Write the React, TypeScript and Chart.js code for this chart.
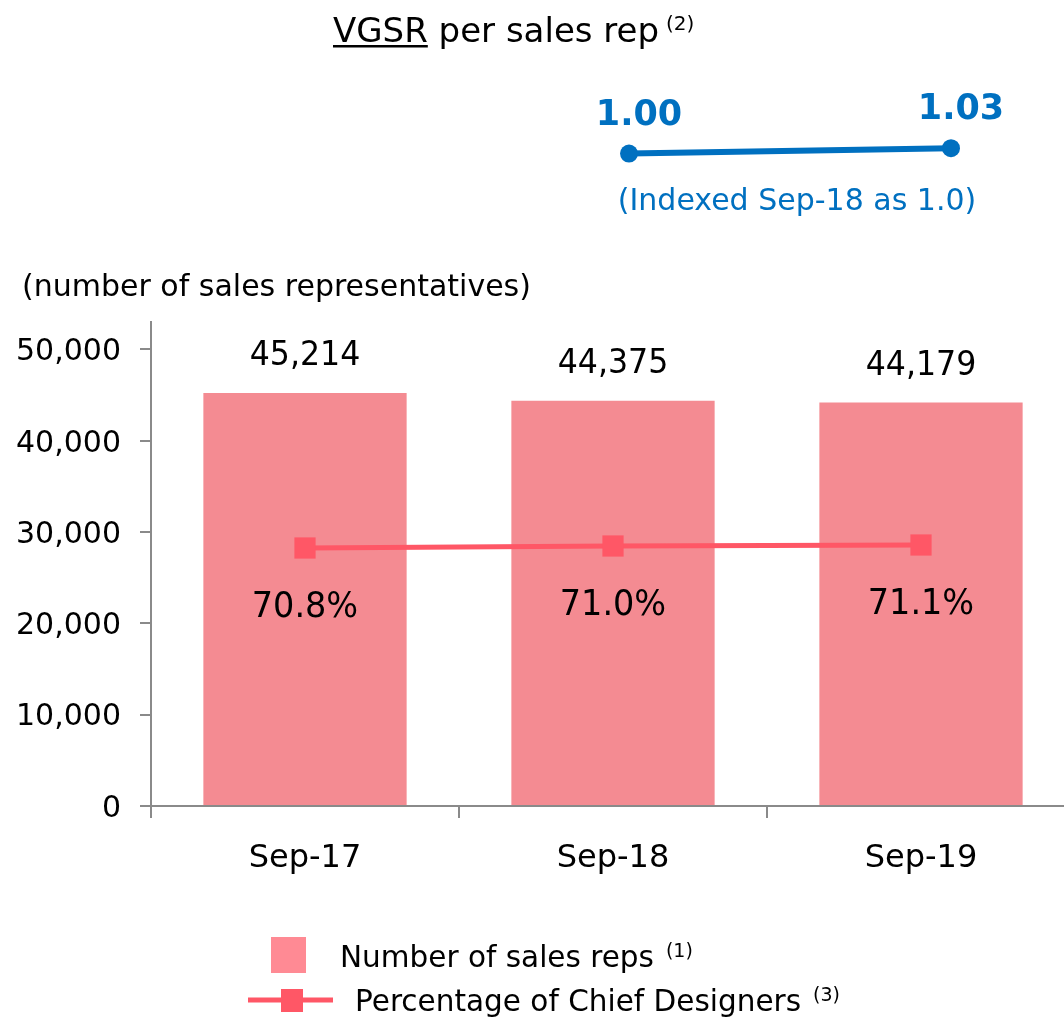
import React, { useEffect, useRef } from "react";
import { Chart, registerables } from "chart.js";

Chart.register(...registerables);

const CATEGORIES = ["Sep-17", "Sep-18", "Sep-19"];
const SALES_REPS = [45214, 44375, 44179];
const CHIEF_PCT = [70.8, 71.0, 71.1];
const PCT_LABELS = ["70.8%", "71.0%", "71.1%"];
const Y_TICKS = [0, 10000, 20000, 30000, 40000, 50000];
const VGSR_LABELS = ["Sep-18", "Sep-19"];
const VGSR_INDEX = [1.0, 1.03];
const VGSR_TEXT = ["1.00", "1.03"];

const FONT = "'DejaVu Sans', Verdana, sans-serif";
const BAR_COLOR = "#F48B92";
const LINE_COLOR = "#FF5766";
const BLUE = "#0070C0";
const AXIS = "#8A8A8A";

function drawScaled(ctx: CanvasRenderingContext2D, text: string, x: number, y: number, sx: number) {
  ctx.save();
  ctx.translate(x, y);
  ctx.scale(sx, 1);
  ctx.fillText(text, 0, 0);
  ctx.restore();
}

export default function App() {
  const mainRef = useRef<HTMLCanvasElement>(null);
  const miniRef = useRef<HTMLCanvasElement>(null);

  useEffect(() => {
    const overlay = {
      id: "overlay",
      afterDraw(chart: any) {
        const ctx = chart.ctx;
        ctx.save();
        // title
        ctx.fillStyle = "#000";
        ctx.textAlign = "left";
        ctx.textBaseline = "alphabetic";
        ctx.font = `34px ${FONT}`;
        const w1 = ctx.measureText("VGSR").width;
        ctx.fillText("VGSR", 333, 42);
        ctx.fillRect(333, 45, w1, 2.5);
        const w2 = ctx.measureText("VGSR per sales rep").width;
        ctx.fillText(" per sales rep", 333 + w1, 42);
        ctx.font = `20px ${FONT}`;
        ctx.fillText("(2)", 333 + w2 + 7, 30);
        // indexed note
        ctx.fillStyle = BLUE;
        ctx.font = `30px ${FONT}`;
        ctx.textAlign = "center";
        ctx.fillText("(Indexed Sep-18 as 1.0)", 797, 210);
        // axis unit
        ctx.fillStyle = "#000";
        ctx.textAlign = "left";
        ctx.font = `30px ${FONT}`;
        ctx.fillText("(number of sales representatives)", 22, 296);

        // bar value labels
        const barMeta = chart.getDatasetMeta(1);
        ctx.textAlign = "center";
        ctx.font = `34px ${FONT}`;
        barMeta.data.forEach((el: any, i: number) => {
          drawScaled(ctx, SALES_REPS[i].toLocaleString("en-US"), el.x, el.y - 28, 0.93);
        });
        const lineMeta = chart.getDatasetMeta(0);
        ctx.font = `36px ${FONT}`;
        lineMeta.data.forEach((el: any, i: number) => {
          drawScaled(ctx, PCT_LABELS[i], el.x, el.y + 69, 0.93);
        });

        // legend
        ctx.fillStyle = "#FF8A94";
        ctx.fillRect(271, 937, 35, 36);
        ctx.fillStyle = "#000";
        ctx.textAlign = "left";
        ctx.font = `29.5px ${FONT}`;
        const lt1 = "Number of sales reps";
        ctx.fillText(lt1, 340, 967);
        const lw1 = ctx.measureText(lt1).width;
        ctx.font = `19px ${FONT}`;
        ctx.fillText("(1)", 340 + lw1 + 12, 957);

        ctx.strokeStyle = LINE_COLOR;
        ctx.lineWidth = 5;
        ctx.beginPath();
        ctx.moveTo(248, 1000);
        ctx.lineTo(333, 1000);
        ctx.stroke();
        ctx.fillStyle = LINE_COLOR;
        ctx.fillRect(281, 989, 22, 23);
        ctx.fillStyle = "#000";
        ctx.font = `29.5px ${FONT}`;
        const lt2 = "Percentage of Chief Designers";
        ctx.fillText(lt2, 355, 1011);
        const lw2 = ctx.measureText(lt2).width;
        ctx.font = `19px ${FONT}`;
        ctx.fillText("(3)", 355 + lw2 + 12, 1001);
        ctx.restore();
      },
    };

    const main = new Chart(mainRef.current!, {
      type: "bar",
      data: {
        labels: CATEGORIES,
        datasets: [
          {
            type: "line",
            label: "Percentage of Chief Designers",
            data: CHIEF_PCT,
            yAxisID: "y1",
            borderColor: LINE_COLOR,
            backgroundColor: LINE_COLOR,
            borderWidth: 5,
            pointStyle: "rect",
            pointRadius: 15,
            pointBorderWidth: 0,
            pointBackgroundColor: LINE_COLOR,
            order: 0,
          } as any,
          {
            type: "bar",
            label: "Number of sales reps",
            data: SALES_REPS,
            yAxisID: "y",
            backgroundColor: BAR_COLOR,
            barPercentage: 0.66,
            categoryPercentage: 1,
            order: 1,
          },
        ],
      },
      options: {
        responsive: false,
        animation: false,
        layout: { padding: { top: 322, left: 0, right: 3, bottom: 131 } },
        plugins: { legend: { display: false }, tooltip: { enabled: false } },
        scales: {
          x: {
            afterFit(scale: any) {
              scale.height = 80;
            },
            grid: {
              display: true,
              drawOnChartArea: false,
              tickLength: 12,
              color: AXIS,
              lineWidth: 2,
              offset: true,
            },
            border: { color: AXIS, width: 2 },
            ticks: { font: { family: FONT, size: 32 }, color: "#000", padding: 21 },
          },
          y: {
            min: 0,
            max: 53000,
            afterFit(scale: any) {
              scale.width = 151;
            },
            afterBuildTicks(scale: any) {
              scale.ticks = Y_TICKS.map((v) => ({ value: v }));
            },
            grid: {
              display: true,
              drawOnChartArea: false,
              tickLength: 11,
              color: AXIS,
              lineWidth: 2,
            },
            border: { color: AXIS, width: 2 },
            ticks: {
              font: { family: FONT, size: 30 },
              color: "#000",
              padding: 19,
              labelOffset: 3,
              callback: (v: any) => Number(v).toLocaleString("en-US"),
            },
          },
          y1: { display: false, min: 45, max: 93.4 },
        },
      },
      plugins: [overlay],
    });

    const miniLabels = {
      id: "miniLabels",
      afterDraw(chart: any) {
        const ctx = chart.ctx;
        ctx.save();
        ctx.fillStyle = BLUE;
        ctx.font = `bold 35px ${FONT}`;
        ctx.textAlign = "center";
        ctx.textBaseline = "alphabetic";
        chart.getDatasetMeta(0).data.forEach((el: any, i: number) => {
          ctx.fillText(VGSR_TEXT[i], el.x + 10, el.y - 29);
        });
        ctx.restore();
      },
    };

    const mini = new Chart(miniRef.current!, {
      type: "line",
      data: {
        labels: VGSR_LABELS,
        datasets: [
          {
            label: "VGSR per sales rep",
            data: VGSR_INDEX,
            borderColor: BLUE,
            backgroundColor: BLUE,
            borderWidth: 6,
            pointRadius: 9,
            pointBorderWidth: 0,
            pointBackgroundColor: BLUE,
          },
        ],
      },
      options: {
        responsive: false,
        animation: false,
        layout: { padding: { left: 69, right: 89, top: 0, bottom: 0 } },
        plugins: { legend: { display: false }, tooltip: { enabled: false } },
        scales: {
          x: { display: false, offset: false },
          y: { display: false, min: 0.57, max: 1.47 },
        },
      },
      plugins: [miniLabels],
    });

    return () => {
      main.destroy();
      mini.destroy();
    };
  }, []);

  return (
    <div
      style={{
        position: "fixed",
        left: 0,
        top: 0,
        width: 1064,
        height: 1017,
        overflow: "hidden",
        background: "#fff",
      }}
    >
      <canvas
        ref={mainRef}
        width={1090}
        height={1017}
        style={{ position: "absolute", left: 0, top: 0, width: 1090, height: 1017 }}
      />
      <canvas
        ref={miniRef}
        width={480}
        height={180}
        style={{ position: "absolute", left: 560, top: 60, width: 480, height: 180 }}
      />
    </div>
  );
}
